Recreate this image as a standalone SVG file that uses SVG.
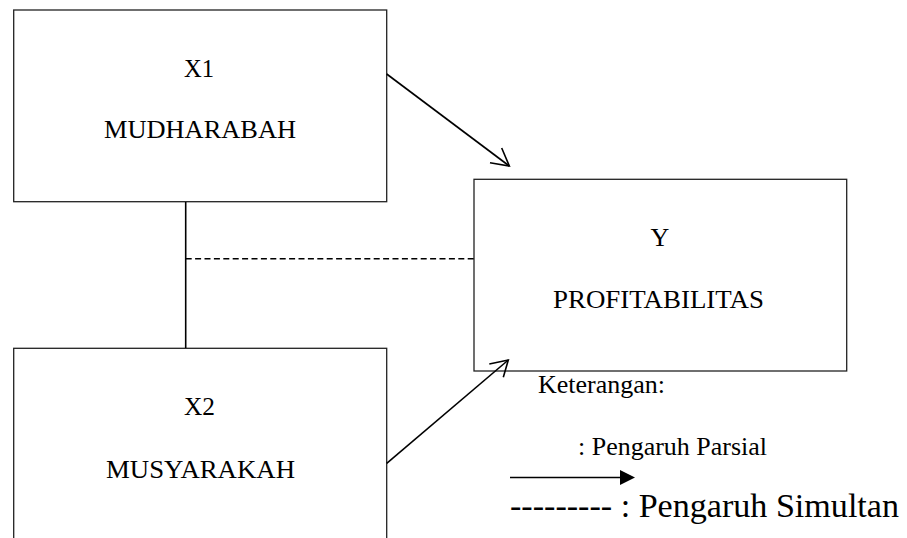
<svg xmlns="http://www.w3.org/2000/svg" width="907" height="538" viewBox="0 0 907 538">
<style>
.box{fill:#fff;stroke:#222;stroke-width:1.3}
.t{font-family:"Liberation Serif","Times New Roman",serif;font-size:26px;fill:#000}
.c{text-anchor:middle}
.ln{stroke:#000;stroke-width:1.6;fill:none}
</style>
<rect width="907" height="538" fill="#fff"/>
<g id="node-x1">
<rect class="box" x="13.7" y="10" width="373" height="191.7"/>
<text class="t c" x="199" y="77" textLength="30" lengthAdjust="spacingAndGlyphs">X1</text>
<text class="t c" x="200" y="138" textLength="192" lengthAdjust="spacingAndGlyphs">MUDHARABAH</text>
</g>
<g id="node-x2">
<rect class="box" x="13.7" y="348.3" width="373" height="200"/>
<text class="t c" x="199.5" y="415" textLength="31" lengthAdjust="spacingAndGlyphs">X2</text>
<text class="t c" x="200.5" y="477.5" textLength="189" lengthAdjust="spacingAndGlyphs">MUSYARAKAH</text>
</g>
<g id="node-y">
<rect class="box" x="474" y="179.3" width="372.7" height="191.7"/>
<text class="t c" x="660" y="246">Y</text>
<text class="t c" x="658.5" y="308" textLength="211" lengthAdjust="spacingAndGlyphs">PROFITABILITAS</text>
</g>
<g id="connectors">
<line class="ln" x1="185.7" y1="202" x2="185.7" y2="348"/>
<line class="ln" x1="185.7" y1="258.7" x2="474" y2="258.7" stroke-width="2" stroke-dasharray="6,3.4"/>
<line class="ln" x1="386.7" y1="74" x2="509.3" y2="166"/>
<polyline class="ln" points="490,162.7 509.3,166 501.7,148"/>
<line class="ln" x1="386.7" y1="463.3" x2="508.3" y2="360"/>
<polyline class="ln" points="489.3,364 508.3,360 503.3,377.3"/>
</g>
<g id="legend">
<text class="t" x="538" y="393" textLength="127" lengthAdjust="spacingAndGlyphs">Keterangan:</text>
<text class="t" x="578" y="455" textLength="189" lengthAdjust="spacingAndGlyphs">: Pengaruh Parsial</text>
<line class="ln" x1="510" y1="477.5" x2="622" y2="477.5" stroke-width="2"/>
<polygon points="620,470 635,477.5 620,485" fill="#000"/>
<text class="t" x="510" y="517" style="font-size:33px" textLength="389" lengthAdjust="spacingAndGlyphs">--------- : Pengaruh Simultan</text>
</g>
</svg>
